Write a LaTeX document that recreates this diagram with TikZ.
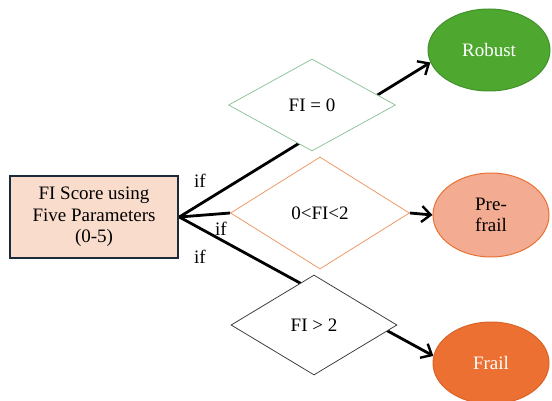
\documentclass[tikz,border=0pt]{standalone}
\usepackage{fontspec}
\setmainfont{Liberation Serif}
\usepackage{tikz}
\usetikzlibrary{backgrounds}
\usetikzlibrary{arrows,shapes}
\usetikzlibrary{arrows.meta}
\definecolor{boxfill}{HTML}{FADCCC}
\definecolor{boxline}{HTML}{1C2B3A}
\definecolor{robustgreen}{HTML}{4EA72E}
\definecolor{robustline}{HTML}{41922A}
\definecolor{prefill}{HTML}{F3AC92}
\definecolor{preline}{HTML}{E97132}
\definecolor{frailfill}{HTML}{EC7031}
\definecolor{frailline}{HTML}{DB6328}
\definecolor{greenedge}{HTML}{92C79E}
\definecolor{orangeedge}{HTML}{F09A68}
\tikzset{
  scorebox/.style={draw=boxline, line width=2.6pt, fill=boxfill, minimum width=168pt, minimum height=82pt, align=center, inner sep=0pt},
  testdiamond/.style={diamond, fill=white, line width=0.8pt, inner sep=0pt},
  outcome/.style={ellipse, minimum width=122pt, minimum height=82pt, line width=1pt, align=center, inner sep=0pt},
  flow/.style={line width=2.8pt, -{Straight Barb[length=9pt, width=16pt, line width=2.4pt]}},
  iflabel/.style={inner sep=0pt}
}

\begin{document}
\begin{tikzpicture}[x=1pt, y=-1pt, font=\fontsize{19}{21.5}\selectfont]
  \useasboundingbox (0,0) rectangle (552,401);
  \node[scorebox] (score) at (94,217) {FI Score using\\Five Parameters\\(0-5)};
  \node[testdiamond, draw=greenedge, minimum width=167pt, minimum height=92pt] (fizero) at (312,105) {FI = 0};
  \node[testdiamond, draw=orangeedge, minimum width=179pt, minimum height=112pt] (fimid) at (320,213) {0<FI<2};
  \node[testdiamond, draw=black!75, minimum width=166pt, minimum height=100pt] (fihigh) at (314,325) {FI > 2};
  \node[outcome, fill=robustgreen, draw=robustline, text=white] (robust) at (489,50) {Robust};
  \node[outcome, fill=prefill, draw=preline, minimum width=116pt, minimum height=84pt] (prefrail) at (491,215) {Pre-\\frail};
  \node[outcome, fill=frailfill, draw=frailline, text=white, minimum width=116pt] (frail) at (491,363) {Frail};
  \node[iflabel] (ifa) at (200,181) {if};
  \node[iflabel] (ifb) at (221,229) {if};
  \node[iflabel] (ifc) at (200,257) {if};
  \begin{scope}[on background layer]
    \draw[flow] (score.east) -- (robust.192);
    \draw[flow] (score.east) -- (frail.173);
  \end{scope}
  \draw[line width=2.8pt] (score.east) -- (fimid.west);
  \draw[flow] (fimid.east) -- (prefrail.west);
\end{tikzpicture}
\end{document}
